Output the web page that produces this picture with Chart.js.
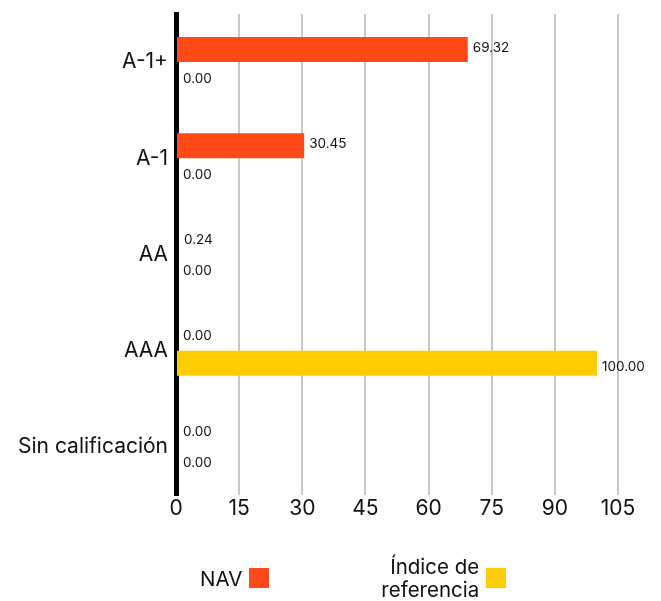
<!DOCTYPE html>
<html>
<head>
<meta charset="utf-8">
<script src="https://cdn.jsdelivr.net/npm/chart.js@4"></script>
<style>
    body { margin: 0; background: #fff; }
    #wrap { position: relative; width: 661px; height: 601px; font-family: Inter, "Noto Sans", sans-serif; color: #111; }
    #myChart { position: absolute; left: 0; top: 0; }
    #legend { position: absolute; left: 200px; top: 555px; display: flex; align-items: center; gap: 112px; font-size: 20.5px; }
    .item { display: flex; align-items: center; gap: 7px; }
    .item span { text-align: right; line-height: 23px; }
    .box { width: 20px; height: 20px; }
</style>
</head>
<body>
<div id="wrap">
    <canvas id="myChart" width="661" height="601"></canvas>
    <div id="legend"></div>
</div>
<script>
const categories = ['A-1+', 'A-1', 'AA', 'AAA', 'Sin calificación']
const navValues = [69.32, 30.45, 0.24, 0.00, 0.00]
const indexValues = [0.00, 0.00, 0.00, 100.00, 0.00]
const seriesNames = ['NAV', 'Índice de referencia']
const seriesColors = ['#ff4a17', '#ffcc00']
const xTicks = [0, 15, 30, 45, 60, 75, 90, 105]

const FONT = 'Inter, "Noto Sans", sans-serif'

// value labels at the end of every bar
const valueLabels = {
    id: 'valueLabels',
    afterDatasetsDraw(chart) {
        const ctx = chart.ctx
        ctx.save()
        ctx.font = '13.5px ' + FONT
        ctx.fillStyle = '#111'
        ctx.textBaseline = 'middle'
        chart.data.datasets.forEach((ds, i) => {
            const meta = chart.getDatasetMeta(i)
            meta.data.forEach((bar, j) => {
                const shift = i === 0 ? -2 : 4
                ctx.fillText(ds.data[j].toFixed(2), Math.max(bar.x, bar.base + 2) + 5, bar.y + shift)
            })
        })
        ctx.restore()
    }
}

const ctx = document.getElementById('myChart').getContext('2d')
const myChart = new Chart(ctx, {
    type: 'bar',
    data: {
        labels: categories,
        datasets: [
            { label: seriesNames[0], data: navValues, backgroundColor: seriesColors[0] },
            { label: seriesNames[1], data: indexValues, backgroundColor: seriesColors[1] }
        ]
    },
    options: {
        indexAxis: 'y',
        responsive: false,
        animation: false,
        devicePixelRatio: 1,
        barPercentage: 1,
        categoryPercentage: 0.52,
        layout: { padding: { top: 14, right: 43, left: 0, bottom: 0 } },
        plugins: {
            legend: { display: false },
            tooltip: { enabled: false }
        },
        scales: {
            x: {
                min: 0,
                max: 105,
                afterBuildTicks: (scale) => { scale.ticks = xTicks.map(v => ({ value: v })) },
                afterFit: (scale) => {
                    scale.height = 106
                    scale.paddingLeft = 0
                    scale.paddingRight = 0
                },
                ticks: { font: { family: FONT, size: 21 }, color: '#111', padding: 1 },
                grid: { color: '#c8c8c8', lineWidth: 2, drawTicks: false },
                border: { display: false }
            },
            y: {
                afterFit: (scale) => {
                    scale.width = 176
                    scale.paddingTop = 0
                    scale.paddingBottom = 0
                },
                ticks: { font: { family: FONT, size: 21 }, color: '#111', padding: 8 },
                grid: { display: false, drawTicks: false },
                border: { color: '#000', width: 5 }
            }
        }
    },
    plugins: [valueLabels]
})

// legend: text first, colour box after it
const legend = document.getElementById('legend')
legend.innerHTML = seriesNames.map((name, i) => {
    const text = i === 1 ? 'Índice de<br>referencia' : name
    return '<div class="item"><span>' + text + '</span><div class="box" style="background:' + seriesColors[i] + '"></div></div>'
}).join('')
</script>
</body>
</html>
